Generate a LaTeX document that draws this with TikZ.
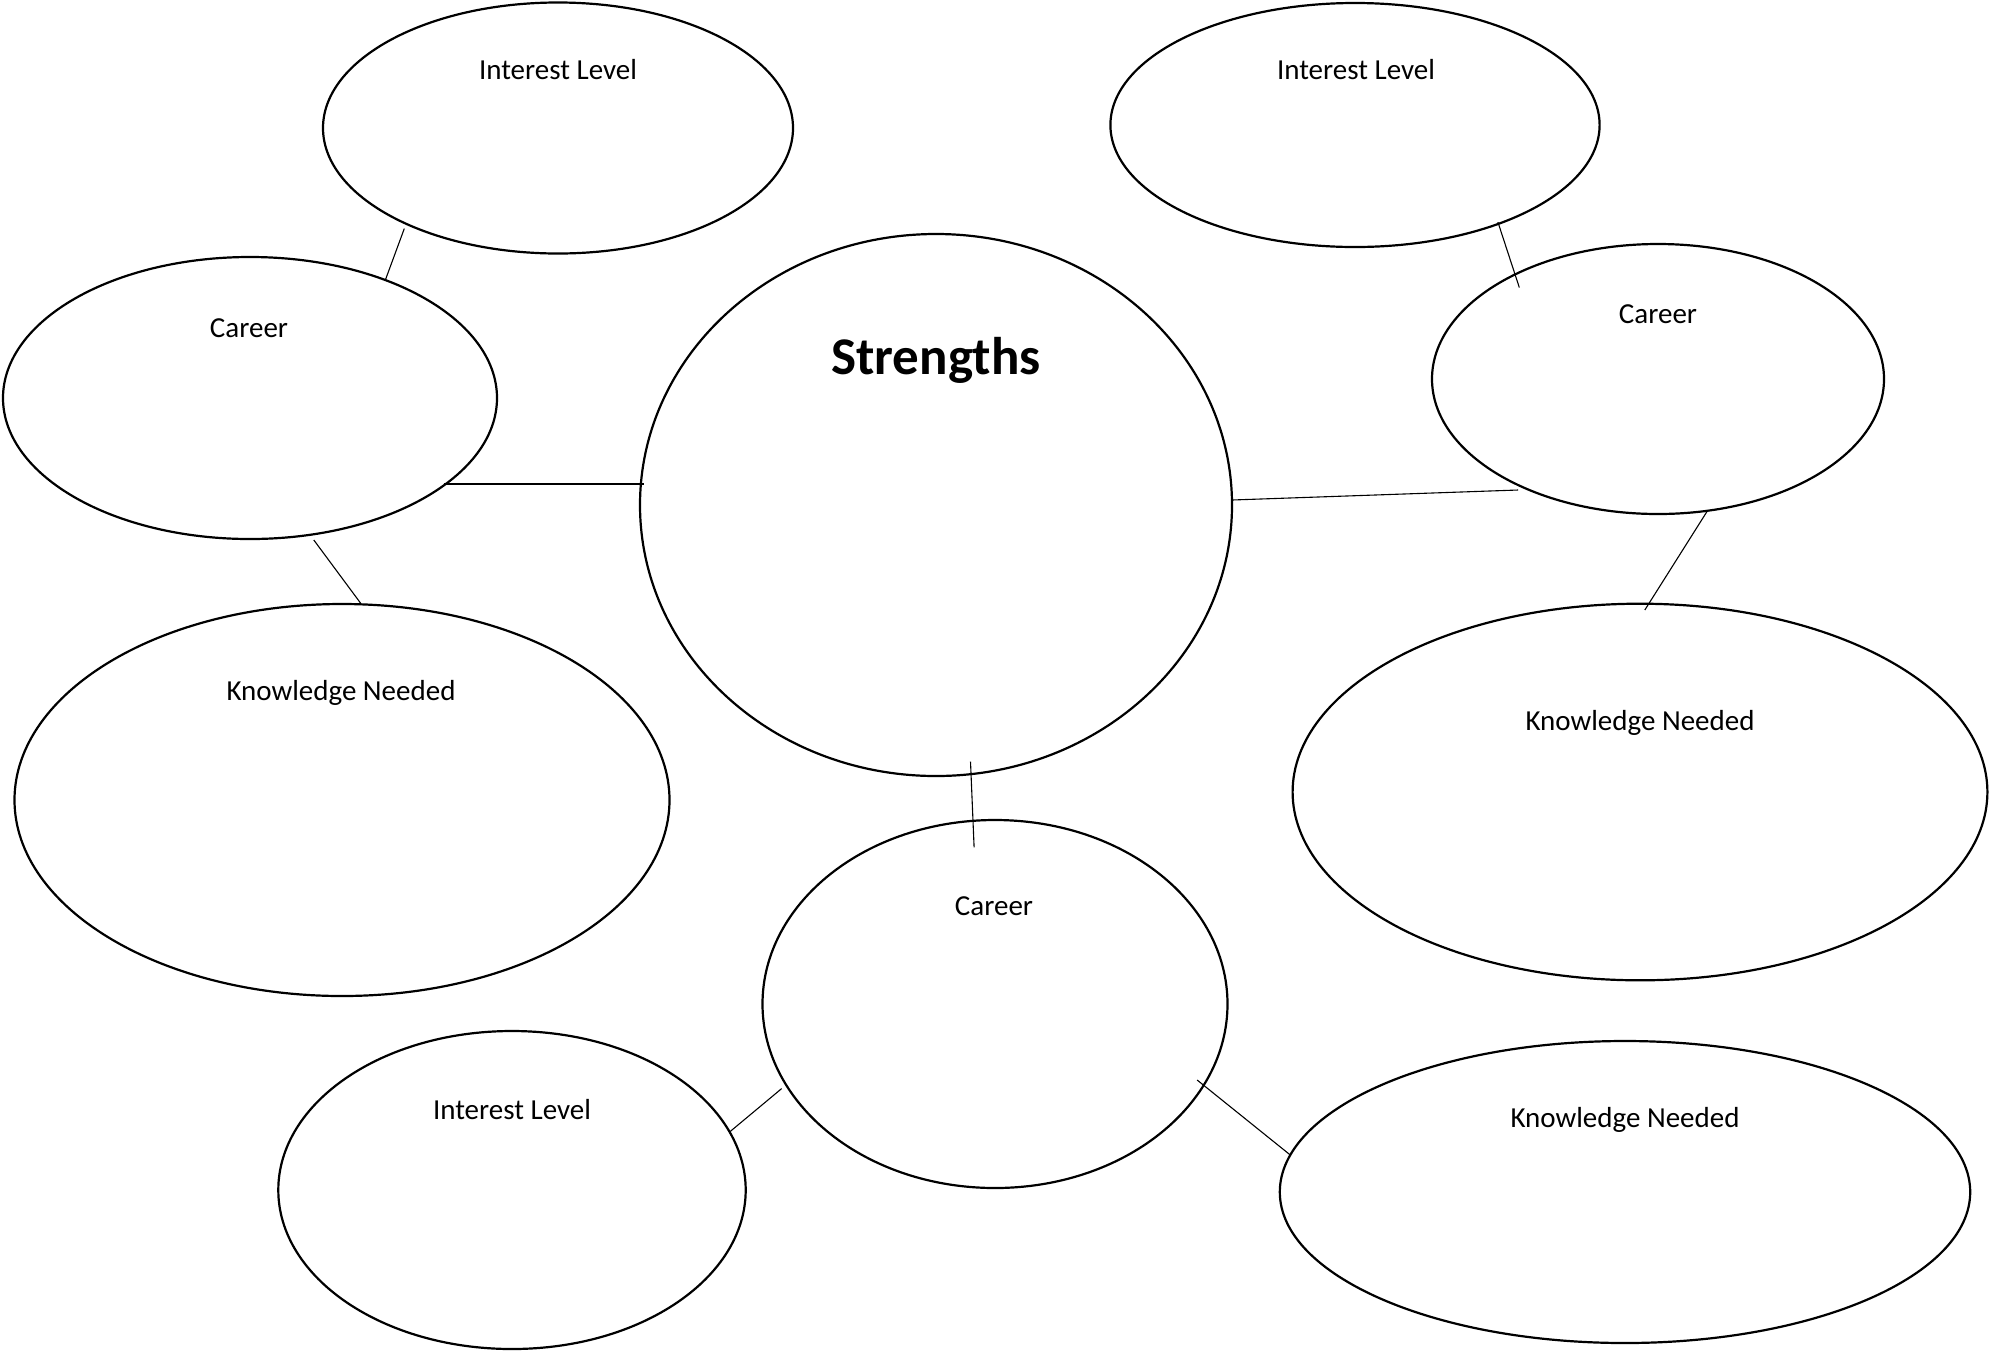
\documentclass[tikz,border=0pt]{standalone}
\usepackage{fontspec}
\setmainfont{Carlito}
\usetikzlibrary{shapes.geometric}
\begin{document}
\begin{tikzpicture}[x=0.5pt,y=-0.5pt,
  bub/.style={draw, ellipse, line width=1.1pt, inner sep=0pt, outer sep=0pt},
  lbl/.style={anchor=base, inner sep=0pt, font=\fontsize{14.5}{16}\selectfont},
  title/.style={anchor=base, inner sep=0pt, font=\fontsize{26.5}{30}\selectfont\bfseries},
  link/.style={line width=0.55pt}]
\fill[white] (0,0) rectangle (1990,1350);
\useasboundingbox (0,0) rectangle (1990,1350);
% bubbles
\node[bub, minimum width=235pt,   minimum height=125.5pt] (A) at (558,128) {};
\node[bub, minimum width=244.6pt, minimum height=122pt]   (B) at (1355,125) {};
\node[bub, minimum width=247pt,   minimum height=141pt]   (C) at (250,398) {};
\node[bub, minimum width=296pt,   minimum height=271pt]   (D) at (936,505) {};
\node[bub, minimum width=226pt,   minimum height=135pt]   (E) at (1658,379) {};
\node[bub, minimum width=327.5pt, minimum height=196pt]   (F) at (342,800) {};
\node[bub, minimum width=347.4pt, minimum height=188.3pt] (G) at (1640,792) {};
\node[bub, minimum width=232.5pt, minimum height=184pt]   (H) at (995,1004) {};
\node[bub, minimum width=233.7pt, minimum height=159pt]   (I) at (512,1190) {};
\node[bub, minimum width=345.2pt, minimum height=151pt]   (J) at (1625,1192) {};
% labels
\node[lbl] (tA) at (558,79) {Interest Level};
\node[lbl] (tB) at (1356,79) {Interest Level};
\node[lbl] (tC) at (249,337) {Career};
\node[title] (tD) at (936,374) {Strengths};
\node[lbl] (tE) at (1658,323) {Career};
\node[lbl] (tF) at (341,700) {Knowledge Needed};
\node[lbl] (tG) at (1640,730) {Knowledge Needed};
\node[lbl] (tH) at (994,915) {Career};
\node[lbl] (tI) at (512,1119) {Interest Level};
\node[lbl] (tJ) at (1625,1127) {Knowledge Needed};
% connectors
\draw[link] ([shift={(-153.7,100.6)}]A.center) -- ([shift={(135.5,-118.4)}]C.center);
\draw[link] ([shift={(193.5,86)}]C.center) -- ([shift={(-291.6,-21)}]D.center);
\draw[link] ([shift={(63.8,142)}]C.center) -- ([shift={(18.7,-196.7)}]F.center);
\draw[link] ([shift={(296,-5)}]D.center) -- ([shift={(-139.8,111)}]E.center);
\draw[link] ([shift={(142.9,97.1)}]B.center) -- ([shift={(-138.7,-91.5)}]E.center);
\draw[link] ([shift={(48.8,132.8)}]E.center) -- ([shift={(4.8,-182)}]G.center);
\draw[link] ([shift={(34.5,256.6)}]D.center) -- ([shift={(-20.9,-156.7)}]H.center);
\draw[link] ([shift={(-213.4,84.6)}]H.center) -- ([shift={(217.3,-57.8)}]I.center);
\draw[link] ([shift={(202.1,76)}]H.center) -- ([shift={(-334.7,-37)}]J.center);
\end{tikzpicture}
\end{document}
